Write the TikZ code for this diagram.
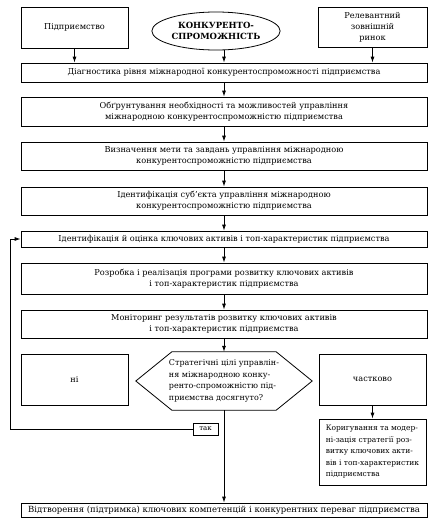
\documentclass[tikz,border=0pt]{standalone}
\usepackage{fontspec}
\setmainfont{DejaVu Serif}
\usepackage{tikz}
\usetikzlibrary{arrows,arrows.meta,positioning,calc,shapes.misc,shapes.geometric}
\begin{document}
\begin{tikzpicture}[x=1pt,y=-1pt]
\tikzset{every node/.style={font=\fontsize{8.2}{11}\selectfont,inner sep=1pt}}
\tikzset{box/.style={draw,line width=0.8pt,align=center}}
\tikzset{wide/.style={box,minimum width=406pt}}
\tikzset{side/.style={box,minimum width=107pt}}
\tikzset{arr/.style={line width=0.8pt,-{Latex[length=6pt,width=4pt]}}}
\useasboundingbox (0,0) rectangle (434,525);
\node[side,minimum height=41pt] (firm) at (74.5,27.5) {Підприємство};
\node[draw,line width=0.8pt,ellipse,minimum width=112pt,minimum height=38pt,align=center,font=\fontsize{8.5}{10.5}\selectfont\bfseries] (comp) at (216,31) {КОНКУРЕНТО-\\СПРОМОЖНІСТЬ};
\node[side,minimum width=109pt,minimum height=40pt] (mkt) at (372.5,27) {Релевантний\\зовнішній\\ринок};
\node[wide,minimum height=19pt] (diag) at (224,72.5) {Діагностика рівня міжнародної конкурентоспроможності підприємства};
\node[wide,minimum height=29pt] (need) at (224,111.5) {Обґрунтування необхідності та можливостей управління\\міжнародною конкурентоспроможністю підприємства};
\node[wide,minimum height=28pt] (goal) at (224,156) {Визначення мети та завдань управління міжнародною\\конкурентоспроможністю підприємства};
\node[wide,minimum height=28pt] (subj) at (224,201) {Ідентифікація суб'єкта управління міжнародною\\конкурентоспроможністю підприємства};
\node[wide,minimum height=16pt] (assets) at (224,239) {Ідентифікація й оцінка ключових активів і топ-характеристик підприємства};
\node[wide,minimum height=31pt] (prog) at (224,278.5) {Розробка і реалізація програми розвитку ключових активів\\і топ-характеристик підприємства};
\node[wide,minimum height=28pt] (mon) at (224,324) {Моніторинг результатів розвитку ключових активів\\і топ-характеристик підприємства};
\node[minimum width=176pt,minimum height=58pt,align=left,font=\fontsize{8}{11.5}\selectfont] (hex) at (224,381) {Стратегічні цілі управлін-\\ня міжнародною конку-\\ренто-спроможністю під-\\приємства досягнуто?};
\draw[line width=0.8pt] (hex.west) -- ([xshift=36pt]hex.north west) -- ([xshift=-36pt]hex.north east) -- (hex.east) -- ([xshift=-36pt]hex.south east) -- ([xshift=36pt]hex.south west) -- cycle;
\node[side,minimum height=51pt] (no) at (74.5,379.5) {ні};
\node[side,minimum height=51pt] (part) at (372.5,379.5) {частково};
\node[side,minimum height=66pt,align=left,font=\fontsize{7.5}{11.5}\selectfont] (fix) at (372.5,452) {Коригування та модер-\\ні-зація стратегії роз-\\витку ключових акти-\\вів і топ-характеристик\\підприємства};
\node[box,minimum width=25pt,minimum height=12pt,font=\fontsize{7}{8}\selectfont] (yes) at (205.5,429) {так};
\node[wide,minimum height=14pt,font=\fontsize{8.5}{11}\selectfont] (keep) at (224,510) {Відтворення (підтримка) ключових компетенцій і конкурентних переваг підприємства};
\coordinate (back) at (10,429);
\draw[arr] (firm.south) -- (firm.south |- diag.north);
\draw[arr] (comp.south -| diag.north) -- (diag.north);
\draw[arr] (mkt.south) -- (mkt.south |- diag.north);
\draw[arr] (diag) -- (need);
\draw[arr] (need) -- (goal);
\draw[arr] (goal) -- (subj);
\draw[arr] (subj) -- (assets);
\draw[arr] (assets) -- (prog);
\draw[arr] (prog) -- (mon);
\draw[arr] (mon) -- (hex);
\draw[arr] (hex) -- (keep);
\draw[arr] (part) -- (fix);
\draw[arr] (yes.west) -- (back) |- (assets.west);
\end{tikzpicture}
\end{document}
